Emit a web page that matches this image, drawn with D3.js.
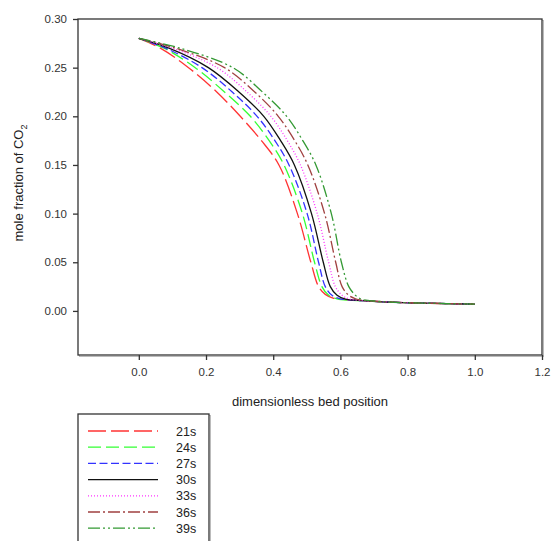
<!DOCTYPE html>
<html>
<head>
<meta charset="utf-8">
<script src="https://cdn.jsdelivr.net/npm/d3@7"></script>
<style>
  body { margin: 0; background: #fff; }
  svg { font-family: "Liberation Sans", Arial, sans-serif; }
</style>
</head>
<body>
<div id="chart"></div>
<script>
(function(){
  'use strict';

  // series labels and styles
  var labels = ["21s", "24s", "27s", "30s", "33s", "36s", "39s"];
  var colors = ["#ff3333", "#33ff33", "#3333ff", "#111111", "#ff33ff", "#a04040", "#339933"];
  var dashes = ["18,5", "13,5", "8,3.5", null, "1,2", "12,3,2,3", "12,3,2,3,2,3"];

  // curve points [x, y]
  var s21 = [[0,0.28],[0.064,0.27],[0.148,0.25],[0.232,0.225],[0.302,0.20],[0.365,0.175],[0.417,0.15],[0.472,0.10],[0.512,0.05],[0.535,0.025],[0.555,0.017],[0.58,0.013],[0.62,0.0115],[0.67,0.0105],[0.75,0.009],[0.85,0.008],[1.0,0.007]];
  var s24 = [[0,0.28],[0.075,0.27],[0.168,0.25],[0.255,0.225],[0.332,0.20],[0.388,0.175],[0.432,0.15],[0.487,0.10],[0.523,0.05],[0.545,0.025],[0.565,0.016],[0.59,0.0125],[0.63,0.011],[0.67,0.0105],[0.75,0.009],[0.85,0.008],[1.0,0.007]];
  var s27 = [[0,0.28],[0.08,0.27],[0.188,0.25],[0.278,0.225],[0.352,0.20],[0.405,0.175],[0.447,0.15],[0.501,0.10],[0.535,0.05],[0.555,0.025],[0.575,0.016],[0.60,0.0125],[0.635,0.011],[0.67,0.0105],[0.75,0.009],[0.85,0.008],[1.0,0.007]];
  var s30 = [[0,0.28],[0.09,0.27],[0.207,0.25],[0.298,0.225],[0.372,0.20],[0.422,0.175],[0.463,0.15],[0.514,0.10],[0.549,0.05],[0.57,0.025],[0.59,0.016],[0.615,0.012],[0.645,0.011],[0.67,0.0105],[0.75,0.009],[0.85,0.008],[1.0,0.007]];
  var s33 = [[0,0.28],[0.10,0.27],[0.233,0.25],[0.322,0.225],[0.393,0.20],[0.442,0.175],[0.481,0.15],[0.531,0.10],[0.565,0.05],[0.585,0.025],[0.605,0.016],[0.625,0.0125],[0.65,0.011],[0.68,0.0103],[0.75,0.009],[0.85,0.008],[1.0,0.007]];
  var s36 = [[0,0.28],[0.11,0.27],[0.255,0.25],[0.345,0.225],[0.415,0.20],[0.464,0.175],[0.503,0.15],[0.553,0.10],[0.586,0.05],[0.605,0.025],[0.625,0.016],[0.645,0.0125],[0.665,0.011],[0.69,0.0102],[0.75,0.009],[0.85,0.008],[1.0,0.007]];
  var s39 = [[0,0.28],[0.123,0.27],[0.28,0.25],[0.368,0.225],[0.440,0.20],[0.488,0.175],[0.527,0.15],[0.573,0.10],[0.603,0.05],[0.625,0.025],[0.645,0.016],[0.66,0.0125],[0.675,0.011],[0.70,0.0102],[0.75,0.009],[0.85,0.008],[1.0,0.007]];
  var seriesData = [s21, s24, s27, s30, s33, s36, s39];

  var yTicks = [0, 0.05, 0.10, 0.15, 0.20, 0.25, 0.30];
  var xTicks = [0, 0.2, 0.4, 0.6, 0.8, 1.0, 1.2];

  var width = 552, height = 541;
  var plot = {left: 78, right: 542, top: 19, bottom: 355};

  var svg = d3.select("#chart").append("svg")
    .attr("width", width)
    .attr("height", height);

  var x = d3.scaleLinear().domain([-0.181, 1.2]).range([plot.left, plot.right]);
  var y = d3.scaleLinear().domain([-0.0453, 0.30]).range([plot.bottom, plot.top]);

  // frame, with the light shadow on the right
  svg.append("rect")
    .attr("x", plot.left + 1.5).attr("y", plot.top + 1.5)
    .attr("width", plot.right - plot.left).attr("height", plot.bottom - plot.top)
    .attr("fill", "none").attr("stroke", "#bbb").attr("stroke-width", 1);
  svg.append("rect")
    .attr("x", plot.left).attr("y", plot.top)
    .attr("width", plot.right - plot.left).attr("height", plot.bottom - plot.top)
    .attr("fill", "#fff").attr("stroke", "#333").attr("stroke-width", 1.3);

  var yAxis = svg.append("g")
    .attr("transform", "translate(" + plot.left + ",0)")
    .call(d3.axisLeft(y).tickValues(yTicks).tickFormat(d3.format(".2f")).tickSize(5).tickPadding(6));
  var xAxis = svg.append("g")
    .attr("transform", "translate(0," + plot.bottom + ")")
    .call(d3.axisBottom(x).tickValues(xTicks).tickFormat(d3.format(".1f")).tickSize(5).tickPadding(8));

  [xAxis, yAxis].forEach(function(g){
    g.select(".domain").remove();
    g.selectAll("line").attr("stroke", "#333").attr("stroke-width", 1.3);
    g.selectAll("text").attr("fill", "#333").style("font-size", "11.5px")
      .style("font-family", "'Liberation Sans', Arial, sans-serif");
  });

  // axis titles
  svg.append("text")
    .attr("x", (plot.left + plot.right) / 2).attr("y", 406)
    .attr("text-anchor", "middle")
    .attr("fill", "#222").style("font-size", "13px")
    .text("dimensionless bed position");

  var yt = svg.append("text")
    .attr("transform", "translate(23,183) rotate(-90)")
    .attr("text-anchor", "middle")
    .attr("fill", "#222").style("font-size", "13px");
  yt.append("tspan").text("mole fraction of CO");
  yt.append("tspan").attr("dy", 4).style("font-size", "9px").text("2");

  // curves
  var line = d3.line()
    .x(function(d){ return x(d[0]); })
    .y(function(d){ return y(d[1]); })
    .curve(d3.curveCatmullRom.alpha(0.5));

  svg.append("g").selectAll("path")
    .data(seriesData)
    .enter()
    .append("path")
    .attr("d", line)
    .attr("fill", "none")
    .attr("stroke", function(d, i){ return colors[i]; })
    .attr("stroke-width", 1.3)
    .attr("stroke-dasharray", function(d, i){ return dashes[i]; });

  // legend
  var leg = svg.append("g");
  leg.append("rect")
    .attr("x", 79.5).attr("y", 415.5).attr("width", 131).attr("height", 140)
    .attr("fill", "none").attr("stroke", "#bbb").attr("stroke-width", 1);
  leg.append("rect")
    .attr("x", 78).attr("y", 414).attr("width", 131).attr("height", 140)
    .attr("fill", "#fff").attr("stroke", "#333").attr("stroke-width", 1.3);

  var rows = leg.selectAll("g.row")
    .data(labels)
    .enter()
    .append("g")
    .attr("class", "row")
    .attr("transform", function(d, i){ return "translate(0," + (431 + i * 16.2) + ")"; });

  rows.append("line")
    .attr("x1", 88).attr("x2", 158).attr("y1", 0).attr("y2", 0)
    .attr("stroke", function(d, i){ return colors[i]; })
    .attr("stroke-width", 1.3)
    .attr("stroke-dasharray", function(d, i){ return dashes[i]; });

  rows.append("text")
    .attr("x", 176).attr("y", 4.5)
    .attr("fill", "#222").style("font-size", "12.5px")
    .text(function(d){ return d; });
})();
</script>
</body>
</html>
